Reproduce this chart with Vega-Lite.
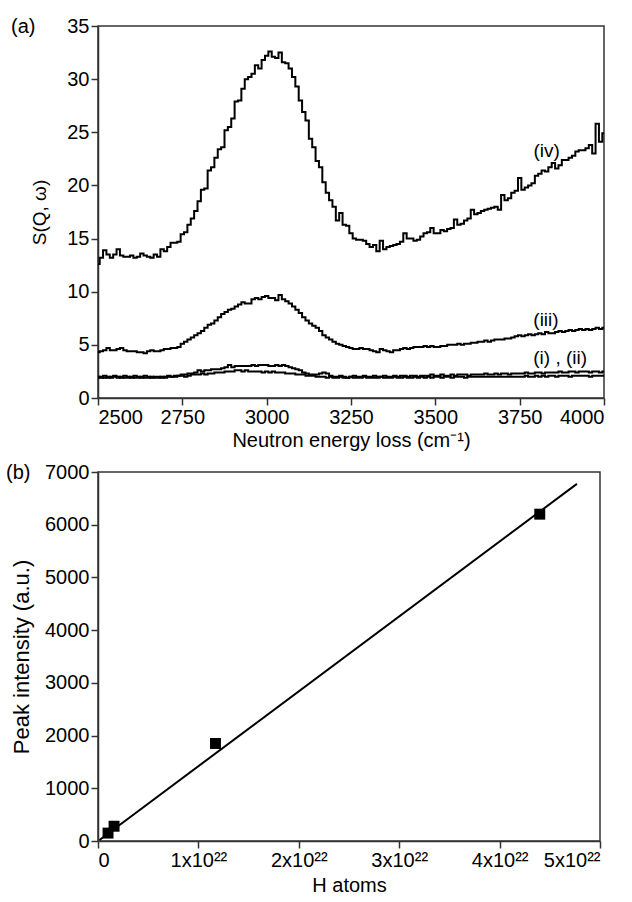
{
  "$schema": "https://vega.github.io/schema/vega-lite/v6.json",
  "padding": {"left": 5, "top": 15, "right": 0, "bottom": 5},
  "config": {
    "font": "Liberation Sans",
    "view": {"stroke": "#333", "strokeWidth": 1.5},
    "axis": {"grid": false, "domainColor": "#333", "tickColor": "#333", "labelColor": "#000", "titleColor": "#000", "labelFontSize": 20, "titleFontSize": 20, "titleFontWeight": "normal", "tickSize": 7, "domainWidth": 1.5, "tickWidth": 1.5, "labelPadding": 2, "labelFont": "Liberation Sans", "titleFont": "Liberation Sans"},
    "title": {"fontSize": 20, "fontWeight": "normal", "anchor": "start", "frame": "group", "baseline": "middle", "font": "Liberation Sans"},
    "concat": {"spacing": 10}
  },
  "vconcat": [
    {
      "width": 506,
      "height": 372,
      "title": {"text": "(a)", "dx": -87, "offset": -21},
      "data": {"values": [
        {"e":2500,"a":1.9,"b":2.0,"c":4.3,"d":12.6},{"e":2510,"a":2.0,"b":1.9,"c":4.4,"d":13.2},{"e":2520,"a":1.9,"b":2.1,"c":4.5,"d":13.9},{"e":2530,"a":2.0,"b":1.9,"c":4.7,"d":13.5},{"e":2540,"a":1.9,"b":2.0,"c":4.5,"d":13.2},{"e":2550,"a":2.0,"b":2.1,"c":4.5,"d":13.5},{"e":2560,"a":1.9,"b":2.0,"c":4.6,"d":14.0},{"e":2570,"a":2.0,"b":1.9,"c":4.7,"d":13.4},{"e":2580,"a":1.9,"b":2.1,"c":4.5,"d":13.3},{"e":2590,"a":1.9,"b":2.0,"c":4.4,"d":13.3},
        {"e":2600,"a":2.0,"b":1.9,"c":4.4,"d":13.4},{"e":2610,"a":1.9,"b":2.1,"c":4.4,"d":13.2},{"e":2620,"a":1.9,"b":2.0,"c":4.3,"d":13.3},{"e":2630,"a":2.0,"b":1.9,"c":4.3,"d":13.6},{"e":2640,"a":1.9,"b":2.1,"c":4.2,"d":13.4},{"e":2650,"a":1.9,"b":2.0,"c":4.4,"d":13.3},{"e":2660,"a":2.0,"b":1.9,"c":4.5,"d":13.2},{"e":2670,"a":1.9,"b":2.0,"c":4.4,"d":13.5},{"e":2680,"a":1.9,"b":2.0,"c":4.4,"d":13.3},{"e":2690,"a":2.0,"b":1.9,"c":4.5,"d":14.0},
        {"e":2700,"a":1.9,"b":2.0,"c":4.6,"d":13.8},{"e":2710,"a":2.0,"b":2.1,"c":4.6,"d":14.2},{"e":2720,"a":2.0,"b":2.0,"c":4.7,"d":14.6},{"e":2730,"a":2.0,"b":2.1,"c":4.7,"d":14.6},{"e":2740,"a":2.1,"b":2.1,"c":4.8,"d":14.7},{"e":2750,"a":2.1,"b":2.2,"c":5.1,"d":15.4},{"e":2760,"a":2.0,"b":2.2,"c":5.3,"d":15.6},{"e":2770,"a":2.1,"b":2.3,"c":5.5,"d":16.3},{"e":2780,"a":2.2,"b":2.3,"c":5.7,"d":16.9},{"e":2790,"a":2.2,"b":2.4,"c":5.9,"d":17.6},
        {"e":2800,"a":2.2,"b":2.6,"c":6.1,"d":18.5},{"e":2810,"a":2.3,"b":2.5,"c":6.3,"d":19.6},{"e":2820,"a":2.2,"b":2.6,"c":6.6,"d":19.7},{"e":2830,"a":2.3,"b":2.6,"c":6.9,"d":21.4},{"e":2840,"a":2.3,"b":2.7,"c":7.0,"d":21.7},{"e":2850,"a":2.4,"b":2.7,"c":7.3,"d":22.6},{"e":2860,"a":2.4,"b":2.7,"c":7.6,"d":23.4},{"e":2870,"a":2.4,"b":2.8,"c":7.9,"d":23.6},{"e":2880,"a":2.5,"b":2.9,"c":8.1,"d":25.2},{"e":2890,"a":2.5,"b":3.1,"c":8.3,"d":25.5},
        {"e":2900,"a":2.5,"b":2.9,"c":8.4,"d":26.3},{"e":2910,"a":2.6,"b":3.0,"c":8.6,"d":27.9},{"e":2920,"a":2.6,"b":3.0,"c":8.8,"d":28.0},{"e":2930,"a":2.5,"b":3.0,"c":9.0,"d":29.1},{"e":2940,"a":2.6,"b":3.0,"c":8.9,"d":30.0},{"e":2950,"a":2.5,"b":3.0,"c":8.9,"d":30.2},{"e":2960,"a":2.5,"b":3.1,"c":9.3,"d":30.5},{"e":2970,"a":2.5,"b":3.0,"c":9.4,"d":31.3},{"e":2980,"a":2.5,"b":3.1,"c":9.3,"d":31.0},{"e":2990,"a":2.4,"b":3.1,"c":9.5,"d":31.8},
        {"e":3000,"a":2.5,"b":3.1,"c":9.6,"d":32.2},{"e":3010,"a":2.4,"b":3.0,"c":9.4,"d":32.6},{"e":3020,"a":2.5,"b":3.0,"c":9.4,"d":32.1},{"e":3030,"a":2.4,"b":3.1,"c":9.2,"d":32.0},{"e":3040,"a":2.4,"b":3.0,"c":9.7,"d":32.5},{"e":3050,"a":2.4,"b":3.1,"c":9.3,"d":31.6},{"e":3060,"a":2.3,"b":3.0,"c":9.1,"d":31.5},{"e":3070,"a":2.3,"b":2.9,"c":8.9,"d":31.0},{"e":3080,"a":2.3,"b":2.8,"c":8.6,"d":30.2},{"e":3090,"a":2.2,"b":2.7,"c":8.3,"d":29.3},
        {"e":3100,"a":2.2,"b":2.6,"c":8.0,"d":28.0},{"e":3110,"a":2.2,"b":2.4,"c":7.6,"d":26.9},{"e":3120,"a":2.1,"b":2.3,"c":7.3,"d":26.1},{"e":3130,"a":2.1,"b":2.2,"c":7.0,"d":24.4},{"e":3140,"a":2.1,"b":2.2,"c":6.8,"d":23.6},{"e":3150,"a":2.0,"b":2.2,"c":6.6,"d":22.3},{"e":3160,"a":2.0,"b":2.3,"c":6.3,"d":21.7},{"e":3170,"a":2.0,"b":2.4,"c":5.9,"d":20.3},{"e":3180,"a":1.9,"b":2.3,"c":5.7,"d":19.3},{"e":3190,"a":2.0,"b":2.1,"c":5.5,"d":18.6},
        {"e":3200,"a":1.9,"b":2.0,"c":5.3,"d":18.0},{"e":3210,"a":1.9,"b":2.0,"c":5.1,"d":16.7},{"e":3220,"a":2.0,"b":2.1,"c":5.0,"d":17.4},{"e":3230,"a":1.9,"b":2.0,"c":4.9,"d":16.3},{"e":3240,"a":1.9,"b":1.9,"c":4.8,"d":16.2},{"e":3250,"a":2.0,"b":2.0,"c":4.7,"d":15.5},{"e":3260,"a":1.9,"b":2.1,"c":4.6,"d":15.0},{"e":3270,"a":1.9,"b":2.0,"c":4.6,"d":14.9},{"e":3280,"a":1.9,"b":2.0,"c":4.7,"d":14.9},{"e":3290,"a":2.0,"b":2.1,"c":4.6,"d":14.8},
        {"e":3300,"a":1.9,"b":2.0,"c":4.6,"d":14.5},{"e":3310,"a":1.9,"b":2.0,"c":4.5,"d":14.2},{"e":3320,"a":1.9,"b":2.1,"c":4.4,"d":14.4},{"e":3330,"a":1.9,"b":2.0,"c":4.3,"d":13.8},{"e":3340,"a":2.0,"b":2.0,"c":4.6,"d":14.8},{"e":3350,"a":1.9,"b":2.1,"c":4.5,"d":14.0},{"e":3360,"a":1.9,"b":2.0,"c":4.4,"d":14.2},{"e":3370,"a":1.9,"b":2.0,"c":4.3,"d":14.3},{"e":3380,"a":2.0,"b":2.1,"c":4.5,"d":14.4},{"e":3390,"a":1.9,"b":2.0,"c":4.5,"d":14.5},
        {"e":3400,"a":1.9,"b":2.1,"c":4.6,"d":14.7},{"e":3410,"a":2.0,"b":2.1,"c":4.7,"d":15.5},{"e":3420,"a":1.9,"b":2.0,"c":4.6,"d":15.0},{"e":3430,"a":1.9,"b":2.1,"c":4.7,"d":15.0},{"e":3440,"a":2.0,"b":2.1,"c":4.8,"d":14.8},{"e":3450,"a":1.9,"b":2.0,"c":4.8,"d":14.9},{"e":3460,"a":2.0,"b":2.1,"c":4.8,"d":15.2},{"e":3470,"a":1.9,"b":2.1,"c":4.9,"d":15.5},{"e":3480,"a":2.0,"b":2.1,"c":4.8,"d":15.6},{"e":3490,"a":1.9,"b":2.2,"c":4.9,"d":16.0},
        {"e":3500,"a":2.0,"b":2.1,"c":4.8,"d":15.5},{"e":3510,"a":2.0,"b":2.1,"c":4.8,"d":15.5},{"e":3520,"a":1.9,"b":2.2,"c":4.9,"d":15.8},{"e":3530,"a":2.0,"b":2.1,"c":4.9,"d":15.7},{"e":3540,"a":2.0,"b":2.1,"c":5.0,"d":15.9},{"e":3550,"a":1.9,"b":2.2,"c":5.0,"d":16.0},{"e":3560,"a":2.0,"b":2.1,"c":5.0,"d":16.8},{"e":3570,"a":2.0,"b":2.2,"c":5.1,"d":16.3},{"e":3580,"a":2.0,"b":2.2,"c":5.0,"d":16.4},{"e":3590,"a":1.9,"b":2.2,"c":5.1,"d":16.7},
        {"e":3600,"a":2.0,"b":2.1,"c":5.1,"d":16.9},{"e":3610,"a":2.0,"b":2.2,"c":5.2,"d":17.7},{"e":3620,"a":2.0,"b":2.2,"c":5.2,"d":17.3},{"e":3630,"a":2.0,"b":2.2,"c":5.3,"d":17.4},{"e":3640,"a":2.0,"b":2.2,"c":5.3,"d":17.6},{"e":3650,"a":2.0,"b":2.3,"c":5.4,"d":17.7},{"e":3660,"a":2.0,"b":2.2,"c":5.3,"d":17.8},{"e":3670,"a":2.0,"b":2.2,"c":5.4,"d":17.9},{"e":3680,"a":2.0,"b":2.3,"c":5.5,"d":18.0},{"e":3690,"a":2.0,"b":2.2,"c":5.5,"d":17.7},
        {"e":3700,"a":2.0,"b":2.3,"c":5.5,"d":19.1},{"e":3710,"a":2.0,"b":2.3,"c":5.6,"d":18.6},{"e":3720,"a":2.0,"b":2.2,"c":5.6,"d":18.8},{"e":3730,"a":2.0,"b":2.3,"c":5.7,"d":19.3},{"e":3740,"a":2.0,"b":2.3,"c":5.8,"d":19.5},{"e":3750,"a":2.0,"b":2.3,"c":5.9,"d":20.7},{"e":3760,"a":2.0,"b":2.3,"c":5.8,"d":19.6},{"e":3770,"a":2.1,"b":2.4,"c":5.9,"d":19.8},{"e":3780,"a":2.0,"b":2.3,"c":6.0,"d":20.0},{"e":3790,"a":2.0,"b":2.3,"c":5.9,"d":20.2},
        {"e":3800,"a":2.1,"b":2.4,"c":6.0,"d":20.9},{"e":3810,"a":2.0,"b":2.4,"c":6.1,"d":21.1},{"e":3820,"a":2.1,"b":2.3,"c":6.0,"d":21.4},{"e":3830,"a":2.0,"b":2.4,"c":6.2,"d":21.3},{"e":3840,"a":2.1,"b":2.4,"c":6.1,"d":21.7},{"e":3850,"a":2.1,"b":2.4,"c":6.1,"d":22.1},{"e":3860,"a":2.0,"b":2.4,"c":6.2,"d":21.6},{"e":3870,"a":2.1,"b":2.5,"c":6.3,"d":21.9},{"e":3880,"a":2.1,"b":2.4,"c":6.2,"d":22.4},{"e":3890,"a":2.1,"b":2.4,"c":6.3,"d":22.4},
        {"e":3900,"a":2.0,"b":2.5,"c":6.4,"d":22.6},{"e":3910,"a":2.1,"b":2.5,"c":6.3,"d":22.8},{"e":3920,"a":2.1,"b":2.4,"c":6.4,"d":23.2},{"e":3930,"a":2.1,"b":2.5,"c":6.5,"d":23.3},{"e":3940,"a":2.1,"b":2.5,"c":6.4,"d":23.3},{"e":3950,"a":2.1,"b":2.5,"c":6.5,"d":23.5},{"e":3960,"a":2.0,"b":2.4,"c":6.4,"d":23.8},{"e":3970,"a":2.1,"b":2.5,"c":6.5,"d":23.0},{"e":3980,"a":2.1,"b":2.5,"c":6.6,"d":25.8},{"e":3990,"a":2.1,"b":2.4,"c":6.5,"d":24.1},
        {"e":4000,"a":2.1,"b":2.5,"c":6.6,"d":24.9}
      ]},
      "layer": [
        {
          "transform": [{"fold": ["a", "b", "c", "d"], "as": ["series", "s"]}],
          "mark": {"type": "line", "interpolate": "step", "color": "#000", "strokeWidth": 2},
          "encoding": {
            "x": {"field": "e", "type": "quantitative", "scale": {"domain": [2500, 4000], "nice": false},
                  "axis": {"values": [2500, 2750, 3000, 3250, 3500, 3750, 4000], "format": "d", "title": "Neutron energy loss (cm⁻¹)", "titlePadding": 3}},
            "y": {"field": "s", "type": "quantitative", "scale": {"domain": [0, 35], "nice": false},
                  "axis": {"values": [0, 5, 10, 15, 20, 25, 30, 35], "format": "d", "title": "S(Q, ω)", "titleFontSize": 19, "titlePadding": 17}},
            "detail": {"field": "series"}
          }
        },
        {
          "data": {"values": [{}]},
          "mark": {"type": "text", "fontSize": 19, "align": "center", "baseline": "middle", "color": "#000"},
          "encoding": {"x": {"datum": 3830}, "y": {"datum": 23.2}, "text": {"value": "(iv)"}}
        },
        {
          "data": {"values": [{}]},
          "mark": {"type": "text", "fontSize": 19, "align": "center", "baseline": "middle", "color": "#000"},
          "encoding": {"x": {"datum": 3828}, "y": {"datum": 7.35}, "text": {"value": "(iii)"}}
        },
        {
          "data": {"values": [{}]},
          "mark": {"type": "text", "fontSize": 19, "align": "center", "baseline": "middle", "color": "#000"},
          "encoding": {"x": {"datum": 3870}, "y": {"datum": 3.8}, "text": {"value": "(i) , (ii)"}}
        }
      ]
    },
    {
      "width": 502,
      "height": 369,
      "title": {"text": "(b)", "dx": -92, "offset": -21},
      "layer": [
        {
          "data": {"values": [
            {"h": 1.5e20, "p": 20},
            {"h": 4.77e22, "p": 6775}
          ]},
          "mark": {"type": "line", "color": "#000", "strokeWidth": 2},
          "encoding": {
            "x": {"field": "h", "type": "quantitative", "scale": {"domain": [0, 5e22], "nice": false},
                  "axis": {"values": [0, 1e22, 2e22, 3e22, 4e22, 5e22], "labelExpr": "datum.value == 0 ? '0' : format(datum.value / 1e22, 'd') + 'x10²²'", "title": "H atoms", "titlePadding": 5}},
            "y": {"field": "p", "type": "quantitative", "scale": {"domain": [0, 7000], "nice": false},
                  "axis": {"values": [0, 1000, 2000, 3000, 4000, 5000, 6000, 7000], "format": "d", "title": "Peak intensity (a.u.)", "titleFontSize": 22, "titlePadding": 11}}
          }
        },
        {
          "data": {"values": [
            {"h": 1.0e21, "p": 150},
            {"h": 1.6e21, "p": 280},
            {"h": 1.17e22, "p": 1850},
            {"h": 4.4e22, "p": 6200}
          ]},
          "mark": {"type": "point", "shape": "square", "filled": true, "color": "#000", "size": 120, "opacity": 1},
          "encoding": {
            "x": {"field": "h", "type": "quantitative"},
            "y": {"field": "p", "type": "quantitative"}
          }
        }
      ]
    }
  ]
}
